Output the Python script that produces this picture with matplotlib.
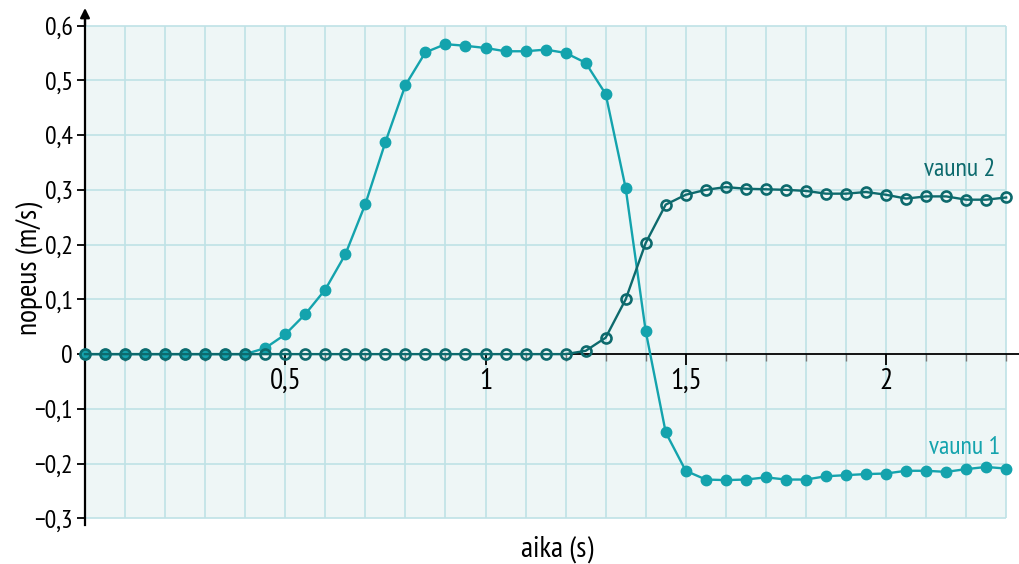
import matplotlib
matplotlib.use("Agg")
import matplotlib.pyplot as plt
from matplotlib import font_manager
from matplotlib.ticker import FixedLocator, FuncFormatter

# ---------------- data ----------------
time_s = [round(0.05 * i, 2) for i in range(47)]  # 0 ... 2.30

vaunu1 = [0, 0, 0, 0, 0, 0, 0, 0, 0, 0.011,
          0.036, 0.073, 0.118, 0.182, 0.274, 0.387, 0.491, 0.551, 0.566, 0.563,
          0.559, 0.553, 0.553, 0.556, 0.550, 0.532, 0.475, 0.303, 0.042, -0.143,
          -0.213, -0.229, -0.230, -0.229, -0.225, -0.229, -0.229, -0.223, -0.221, -0.219,
          -0.218, -0.213, -0.213, -0.215, -0.210, -0.206, -0.209]

vaunu2 = [0, 0, 0, 0, 0, 0, 0, 0, 0, 0,
          0, 0, 0, 0, 0, 0, 0, 0, 0, 0,
          0, 0, 0, 0, 0, 0.006, 0.030, 0.100, 0.203, 0.273,
          0.291, 0.300, 0.305, 0.302, 0.301, 0.300, 0.298, 0.293, 0.293, 0.296,
          0.291, 0.284, 0.288, 0.288, 0.282, 0.282, 0.286]

x_major = [0.5, 1, 1.5, 2]
x_minor = [round(0.1 * i, 1) for i in range(1, 24)]
y_ticks = [-0.3, -0.2, -0.1, 0, 0.1, 0.2, 0.3, 0.4, 0.5, 0.6]

series_labels = ["vaunu 1", "vaunu 2"]
x_label = "aika (s)"
y_label = "nopeus (m/s)"

# ---------------- style ----------------
avail = {f.name for f in font_manager.fontManager.ttflist}
font = "Open Sans"
sizes = dict(xt=18, yt=16.5, lab=20, ser=15.5)
for cand in ["PT Sans Narrow", "Fira Sans Condensed", "Asap Condensed", "Archivo Narrow"]:
    if cand in avail:
        font = cand
        sizes = dict(xt=21, yt=18.5, lab=21.5, ser=18.5)
        break
plt.rcParams["font.family"] = [font, "DejaVu Sans"]

c1 = "#14a3ad"
c2 = "#0d6a6d"
bg = "#eef6f6"
grid_c = "#bfe2e6"

fig = plt.figure(figsize=(10.19, 5.64), dpi=100)
ax = fig.add_axes([85 / 1019, 1 - 525 / 564, 1 - 85 / 1019, (525 - 8) / 564])

x_max_fig = (1019 - 85) / 400.5
ax.set_xlim(0, x_max_fig)
ax.set_ylim(-0.312, 0.632)

# background panel and grid (0..2.3, -0.3..0.6)
ax.add_patch(plt.Rectangle((0, -0.3), 2.3, 0.9, facecolor=bg, edgecolor="none", zorder=0))
grid_x = [round(0.1 * i, 1) for i in range(1, 24)]
ax.vlines(grid_x, -0.3, 0.6, colors=grid_c, linewidth=1.2, zorder=1)
grid_y = [v for v in y_ticks if v != 0]
ax.hlines(grid_y, 0, 2.3, colors=grid_c, linewidth=1.2, zorder=1)

# series
ax.plot(time_s, vaunu1, color=c1, lw=1.7, marker="o", ms=7.5,
        markerfacecolor=c1, markeredgecolor=c1, zorder=4, clip_on=False)
ax.plot(time_s, vaunu2, color=c2, lw=1.7, marker="o", ms=7.2,
        markerfacecolor="none", markeredgecolor=c2, markeredgewidth=1.9,
        zorder=5, clip_on=False)

# spines
for s in ["top", "right"]:
    ax.spines[s].set_visible(False)
ax.spines["bottom"].set_position(("data", 0))
ax.spines["bottom"].set_linewidth(1.3)
ax.spines["bottom"].set_zorder(3)
ax.spines["left"].set_linewidth(1.6)
ax.spines["left"].set_bounds(-0.312, 0.62)
ax.annotate("", xy=(0, 0.632), xytext=(0, 0.60),
            arrowprops=dict(arrowstyle="-|>", color="black", lw=1.6,
                            mutation_scale=14, shrinkA=0, shrinkB=0),
            annotation_clip=False, zorder=6)

ax.xaxis.set_major_locator(FixedLocator(x_major))
ax.xaxis.set_minor_locator(FixedLocator(x_minor))
ax.xaxis.set_major_formatter(FuncFormatter(lambda v, p: f"{v:g}".replace(".", ",")))
ax.tick_params(axis="x", which="major", direction="out", length=8, width=1.3,
               labelsize=sizes["xt"], pad=2)
ax.tick_params(axis="x", which="minor", direction="out", length=5, width=1.0,
               color="#777777")

ax.yaxis.set_major_locator(FixedLocator(y_ticks))
def yfmt(v, p):
    if abs(v) < 1e-9:
        return "0"
    s = f"{abs(v):.1f}".replace(".", ",")
    return ("\u2212" + s) if v < 0 else s
ax.yaxis.set_major_formatter(FuncFormatter(yfmt))
ax.tick_params(axis="y", which="major", direction="out", length=6, width=1.3,
               labelsize=sizes["yt"], pad=3)

ax.set_facecolor("none")
fig.patch.set_facecolor("white")

fig.text(30 / 1019, 1 - 268 / 564, y_label, rotation=90, ha="center", va="center",
         fontsize=sizes["lab"])
fig.text(557 / 1019, 1 - 549 / 564, x_label, ha="center", va="center",
         fontsize=sizes["lab"])

ax.text(2.272, 0.338, series_labels[1], color=c2, ha="right", va="center",
        fontsize=sizes["ser"])
ax.text(2.285, -0.170, series_labels[0], color=c1, ha="right", va="center",
        fontsize=sizes["ser"])

fig.savefig("out.png", dpi=100)
